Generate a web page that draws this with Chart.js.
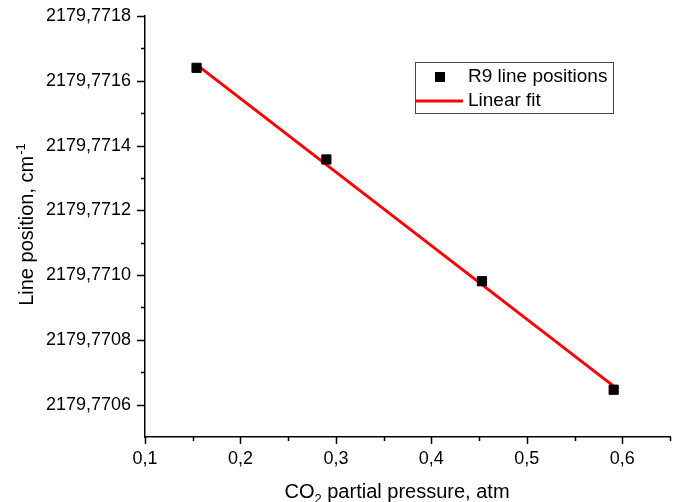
<!DOCTYPE html>
<html>
<head>
<meta charset="utf-8">
<script src="https://cdn.jsdelivr.net/npm/chart.js@4.4.0/dist/chart.umd.min.js"></script>
<style>
  html, body { margin: 0; padding: 0; background: #fff; }
</style>
</head>
<body>
<canvas id="chart" width="680" height="502"></canvas>
<script>
// data
const pressure = [0.154, 0.290, 0.453, 0.591];
const linePos = [2179.77164, 2179.771357, 2179.770981, 2179.770646];
const fitPressure = [0.154, 0.591];
const fitPos = [2179.77165, 2179.770657];

const xMajorTicks = [0.1, 0.2, 0.3, 0.4, 0.5, 0.6];
const xMinorTicks = [0.15, 0.25, 0.35, 0.45, 0.55, 0.65];
const yMajorTicks = [2179.7706, 2179.7708, 2179.7710, 2179.7712, 2179.7714, 2179.7716, 2179.7718];
const yMinorTicks = [2179.7707, 2179.7709, 2179.7711, 2179.7713, 2179.7715, 2179.7717];

const FONT = '"Liberation Sans", Arial, sans-serif';

function buildTicks(major, minor) {
  const t = major.map(v => ({ value: v, minor: false }))
    .concat(minor.map(v => ({ value: v, minor: true })));
  return t.sort((a, b) => a.value - b.value);
}

// outward tick marks, long for major and short for minor
const tickMarks = {
  id: 'tickMarks',
  afterDraw(chart) {
    const ctx = chart.ctx;
    const area = chart.chartArea;
    const xs = chart.scales.x, ys = chart.scales.y;
    ctx.save();
    ctx.strokeStyle = '#000';
    ctx.lineWidth = 1.5;
    ctx.beginPath();
    xs.ticks.forEach(t => {
      const px = Math.round(xs.getPixelForValue(t.value)) + 0.5;
      ctx.moveTo(px, area.bottom);
      ctx.lineTo(px, area.bottom + (t.minor ? 4 : 7));
    });
    ys.ticks.forEach(t => {
      const py = Math.round(ys.getPixelForValue(t.value)) + 0.5;
      ctx.moveTo(area.left, py);
      ctx.lineTo(area.left - (t.minor ? 4 : 8), py);
    });
    ctx.stroke();
    ctx.restore();
  }
};

// axis titles with sub/superscripts
const axisTitles = {
  id: 'axisTitles',
  afterDraw(chart) {
    const ctx = chart.ctx;
    ctx.save();
    ctx.fillStyle = '#000';
    ctx.textBaseline = 'alphabetic';
    ctx.textAlign = 'left';

    // x title: CO2 partial pressure, atm
    const big = '20px ' + FONT, small = '13px ' + FONT;
    ctx.font = big;
    const w1 = ctx.measureText('CO').width;
    const w3 = ctx.measureText(' partial pressure, atm').width;
    ctx.font = small;
    const w2 = ctx.measureText('2').width;
    let x = 397 - (w1 + w2 + w3) / 2;
    const yb = 498;
    ctx.font = big;
    ctx.fillText('CO', x, yb);
    ctx.font = small;
    ctx.fillText('2', x + w1, yb + 5);
    ctx.font = big;
    ctx.fillText(' partial pressure, atm', x + w1 + w2, yb);

    // y title: Line position, cm-1
    ctx.translate(33, 225);
    ctx.rotate(-Math.PI / 2);
    ctx.font = big;
    const a = ctx.measureText('Line position, cm').width;
    ctx.font = small;
    const b = ctx.measureText('-1').width;
    const sx = -(a + b) / 2;
    ctx.font = big;
    ctx.fillText('Line position, cm', sx, 0);
    ctx.font = small;
    ctx.fillText('-1', sx + a + 1, -8);
    ctx.restore();
  }
};

// legend box inside the plot
const legendBox = {
  id: 'legendBox',
  afterDraw(chart) {
    const ctx = chart.ctx;
    const ds = chart.data.datasets;
    ctx.save();
    ctx.strokeStyle = '#444';
    ctx.lineWidth = 1;
    ctx.strokeRect(415.5, 62.5, 198, 51);

    ctx.fillStyle = ds[0].backgroundColor;
    ctx.fillRect(435, 72, 10, 10);

    ctx.strokeStyle = ds[1].borderColor;
    ctx.lineWidth = ds[1].borderWidth;
    ctx.beginPath();
    ctx.moveTo(416, 101);
    ctx.lineTo(463, 101);
    ctx.stroke();

    ctx.fillStyle = '#000';
    ctx.font = '19px ' + FONT;
    ctx.textBaseline = 'middle';
    ctx.fillText(ds[0].label, 468, 77);
    ctx.fillText(ds[1].label, 468, 101);
    ctx.restore();
  }
};

const ctx = document.getElementById('chart').getContext('2d');

new Chart(ctx, {
  type: 'scatter',
  data: {
    datasets: [{
      label: 'R9 line positions',
      data: pressure.map((p, i) => ({ x: p, y: linePos[i] })),
      pointStyle: 'rect',
      pointRadius: 6.5,
      backgroundColor: '#000',
      borderColor: '#000',
      borderWidth: 1,
      showLine: false
    }, {
      label: 'Linear fit',
      data: fitPressure.map((p, i) => ({ x: p, y: fitPos[i] })),
      showLine: true,
      borderColor: '#ff0000',
      borderWidth: 3,
      pointRadius: 0
    }]
  },
  options: {
    responsive: false,
    animation: false,
    layout: {
      padding: { top: 16, right: 10, left: 0, bottom: 0 }
    },
    plugins: {
      legend: { display: false },
      tooltip: { enabled: false }
    },
    scales: {
      x: {
        type: 'linear',
        min: 0.1,
        max: 0.65,
        afterBuildTicks: scale => { scale.ticks = buildTicks(xMajorTicks, xMinorTicks); },
        afterFit: scale => {
          scale.height = 65;
          scale.paddingLeft = 0; scale.paddingRight = 0;
        },
        grid: { display: false, drawTicks: false },
        border: { display: true, color: '#000', width: 1.5 },
        ticks: {
          autoSkip: false,
          maxRotation: 0,
          padding: 11,
          color: '#000',
          font: { family: FONT, size: 18 },
          callback: (v, i, ticks) => ticks[i].minor ? '' : v.toFixed(1).replace('.', ',')
        }
      },
      y: {
        type: 'linear',
        min: 2179.7705,
        max: 2179.7718,
        afterBuildTicks: scale => { scale.ticks = buildTicks(yMajorTicks, yMinorTicks); },
        afterFit: scale => {
          scale.width = 145;
          scale.paddingTop = 0; scale.paddingBottom = 0;
        },
        grid: { display: false, drawTicks: false },
        border: { display: true, color: '#000', width: 1.5 },
        ticks: {
          autoSkip: false,
          padding: 14,
          color: '#000',
          font: { family: FONT, size: 18 },
          callback: (v, i, ticks) => ticks[i].minor ? '' : v.toFixed(4).replace('.', ',')
        }
      }
    }
  },
  plugins: [tickMarks, axisTitles, legendBox]
});
</script>
</body>
</html>
